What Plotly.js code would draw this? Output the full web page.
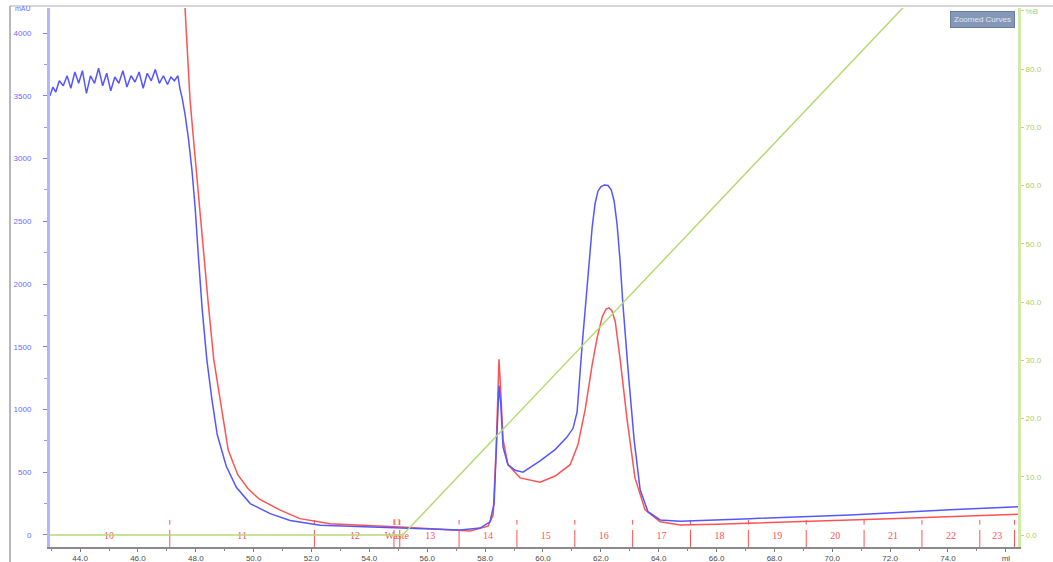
<!DOCTYPE html>
<html><head><meta charset="utf-8">
<script src="https://cdn.plot.ly/plotly-3.0.1.min.js"></script>
<style>html,body{margin:0;padding:0;background:#fff}#chart{width:1053px;height:562px}</style>
</head><body><div id="chart"></div>
<script>
// UV trace 1 (blue), mL vs mAU
const blueVolume = [42.96,43.06,43.16,43.28,43.42,43.55,43.68,43.82,43.95,44.08,44.22,44.36,44.50,44.64,44.78,44.92,45.06,45.20,45.34,45.48,45.62,45.76,45.90,46.04,46.18,46.32,46.46,46.60,46.74,46.88,47.02,47.14,47.26,47.38,47.45,
  47.53,47.63,47.75,47.87,47.98,48.08,48.22,48.38,48.56,48.74,49.05,49.40,49.88,50.57,51.26,52.30,55.06,57.14,57.83,58.17,58.31,58.38,58.45,58.48,58.54,58.62,58.79,59.04,59.31,59.90,60.42,60.83,61.04,61.18,61.35,61.56,61.70,61.80,61.90,62.00,62.12,62.25,62.36,62.46,62.56,62.66,62.76,62.94,63.15,63.36,63.63,64.05,64.74,67.16,70.62,74.07,76.42];
const blueAbs = [3500,3570,3530,3620,3580,3660,3560,3690,3600,3700,3520,3660,3600,3720,3580,3680,3540,3650,3600,3700,3570,3660,3610,3690,3560,3680,3620,3710,3600,3660,3590,3650,3620,3660,3560,
  3480,3350,3150,2900,2600,2250,1800,1400,1075,800,550,380,250,170,115,78,56,40,55,105,250,600,1000,1190,1050,700,560,515,500,590,680,780,850,980,1500,2110,2450,2640,2740,2775,2790,2785,2750,2660,2480,2200,1850,1320,760,360,185,120,110,130,160,200,225];
// UV trace 2 (red)
const redVolume = [42.96,47.40,47.62,47.80,47.96,48.11,48.25,48.42,48.62,48.84,49.12,49.45,49.80,50.20,50.90,51.60,52.64,55.06,57.48,58.10,58.28,58.38,58.48,58.54,58.62,58.79,59.21,59.90,60.42,60.94,61.21,61.46,61.70,61.88,62.05,62.18,62.28,62.38,62.50,62.67,62.91,63.18,63.53,64.05,64.74,66.00,68.89,72.00,76.42];
const redAbs = [4600,4600,4230,3470,3050,2670,2250,1870,1400,1075,677,480,370,285,200,130,90,64,32,70,160,680,1400,1150,760,560,455,420,470,560,720,1000,1355,1580,1740,1800,1810,1790,1700,1395,915,455,200,105,80,85,105,130,165];
// Concentration %B (green)
const concVolume = [42.96,55.15,74.25,76.42];
const concB = [0,0,100,100];
// Fractions
const fractionBounds = [47.1,52.1,54.85,55.05,57.1,59.1,61.1,63.1,65.1,67.1,69.1,71.1,73.1,75.1,76.3];
const fractionCenters = [45.0,49.6,53.5,54.95,56.1,58.1,60.1,62.1,64.1,66.1,68.1,70.1,72.1,74.1,75.7];
const fractionLabels = ["10","11","12","Waste","13","14","15","16","17","18","19","20","21","22","23"];
// Axis ticks
const xTickVals = [44,46,48,50,52,54,56,58,60,62,64,66,68,70,72,74,76];
const xTickText = ["44.0","46.0","48.0","50.0","52.0","54.0","56.0","58.0","60.0","62.0","64.0","66.0","68.0","70.0","72.0","74.0","ml"];
const yTickVals = [0,500,1000,1500,2000,2500,3000,3500,4000];
const yTickText = ["0","500","1000","1500","2000","2500","3000","3500","4000"];
const y2TickVals = [0,10,20,30,40,50,60,70,80,90];
const y2TickText = ["0.0","10.0","20.0","30.0","40.0","50.0","60.0","70.0","80.0","%B"];

const RED = '#ff5252', BLUE = '#5656ff', GREEN = '#b6da74';

// fraction marks built from boundaries
const fx = [], fy = [];
fractionBounds.forEach(b => { fx.push(b,b,null,b,b,null); fy.push(120,82,null,40,-96,null); });

const traces = [
  {x: concVolume, y: concB, yaxis: 'y2', mode: 'lines', line: {color: GREEN, width: 1.5}, hoverinfo: 'skip'},
  {x: fx, y: fy, mode: 'lines', line: {color: RED, width: 1}, hoverinfo: 'skip'},
  {x: fractionCenters, y: fractionCenters.map(() => -16), mode: 'text', text: fractionLabels,
   textfont: {family: 'Liberation Serif, serif', size: 10, color: RED}, textposition: 'middle center', hoverinfo: 'skip'},
  {x: [54.95], y: [100], mode: 'text', text: ['11'], textfont: {family: 'Liberation Serif, serif', size: 9, color: RED}, hoverinfo: 'skip'},
  {x: redVolume, y: redAbs, mode: 'lines', line: {color: RED, width: 1.5}},
  {x: blueVolume, y: blueAbs, mode: 'lines', line: {color: BLUE, width: 1.5}}
];

const tickFont = {family: 'Liberation Sans, Arial, sans-serif', size: 8};
const layout = {
  width: 1053, height: 562,
  margin: {l: 50, r: 35, t: 8, b: 15},
  paper_bgcolor: '#ffffff', plot_bgcolor: '#ffffff',
  showlegend: false,
  xaxis: {range: [42.96, 76.42], tickvals: xTickVals, ticktext: xTickText, showgrid: false, zeroline: false,
    showline: true, linecolor: '#8a8a8a', linewidth: 1.5, ticks: 'outside', ticklen: 3, tickcolor: '#777',
    minor: {dtick: 1, tick0: 43, ticks: 'outside', ticklen: 2, tickcolor: '#888'},
    tickfont: Object.assign({color: '#4a4a4a'}, tickFont)},
  yaxis: {range: [-96, 4200], tickvals: yTickVals, ticktext: yTickText, showgrid: false, zeroline: false,
    showline: true, linecolor: 'rgba(110,110,255,0.5)', linewidth: 3, ticks: 'outside', ticklen: 4, tickcolor: '#8080ff',
    ticklabelstandoff: 10,
    minor: {tickvals: [250,750,1250,1750,2250,2750,3250,3750,4250], ticks: 'outside', ticklen: 3, tickcolor: '#9a9aff'},
    tickfont: Object.assign({color: '#6a6aff'}, tickFont)},
  yaxis2: {range: [-2.06, 90.5], overlaying: 'y', side: 'right', tickvals: y2TickVals, ticktext: y2TickText,
    showgrid: false, zeroline: false, showline: true, linecolor: 'rgba(185,222,120,0.65)', linewidth: 3,
    ticks: 'outside', ticklen: 3, tickcolor: '#b6da74', tickfont: Object.assign({color: '#a8d060'}, tickFont)},
  shapes: [
    {type: 'line', xref: 'paper', yref: 'paper', x0: -0.0413, x1: 1.04, y0: 1.0037, y1: 1.0037, line: {color: '#c8c8c8', width: 1.5}},
    {type: 'line', xref: 'paper', yref: 'paper', x0: -0.0413, x1: -0.0413, y0: 1.0037, y1: -0.03, line: {color: '#a0a0a0', width: 1.5}}
  ],
  annotations: [
    {text: 'mAU', xref: 'paper', yref: 'paper', x: -0.018, y: 1.0, xanchor: 'right', yanchor: 'middle', showarrow: false,
     font: {family: 'Liberation Sans, Arial, sans-serif', size: 7, color: '#6a6aff'}},
    {text: 'Zoomed Curves', xref: 'paper', yref: 'paper', x: 0.997, y: 0.994, xanchor: 'right', yanchor: 'top', showarrow: false,
     bgcolor: '#8597b8', bordercolor: '#6b7c9c', borderwidth: 1, borderpad: 3,
     font: {family: 'Liberation Sans, Arial, sans-serif', size: 8, color: '#e2e8f3'}}
  ]
};
Plotly.newPlot('chart', traces, layout, {displayModeBar: false, staticPlot: true});
</script></body></html>
